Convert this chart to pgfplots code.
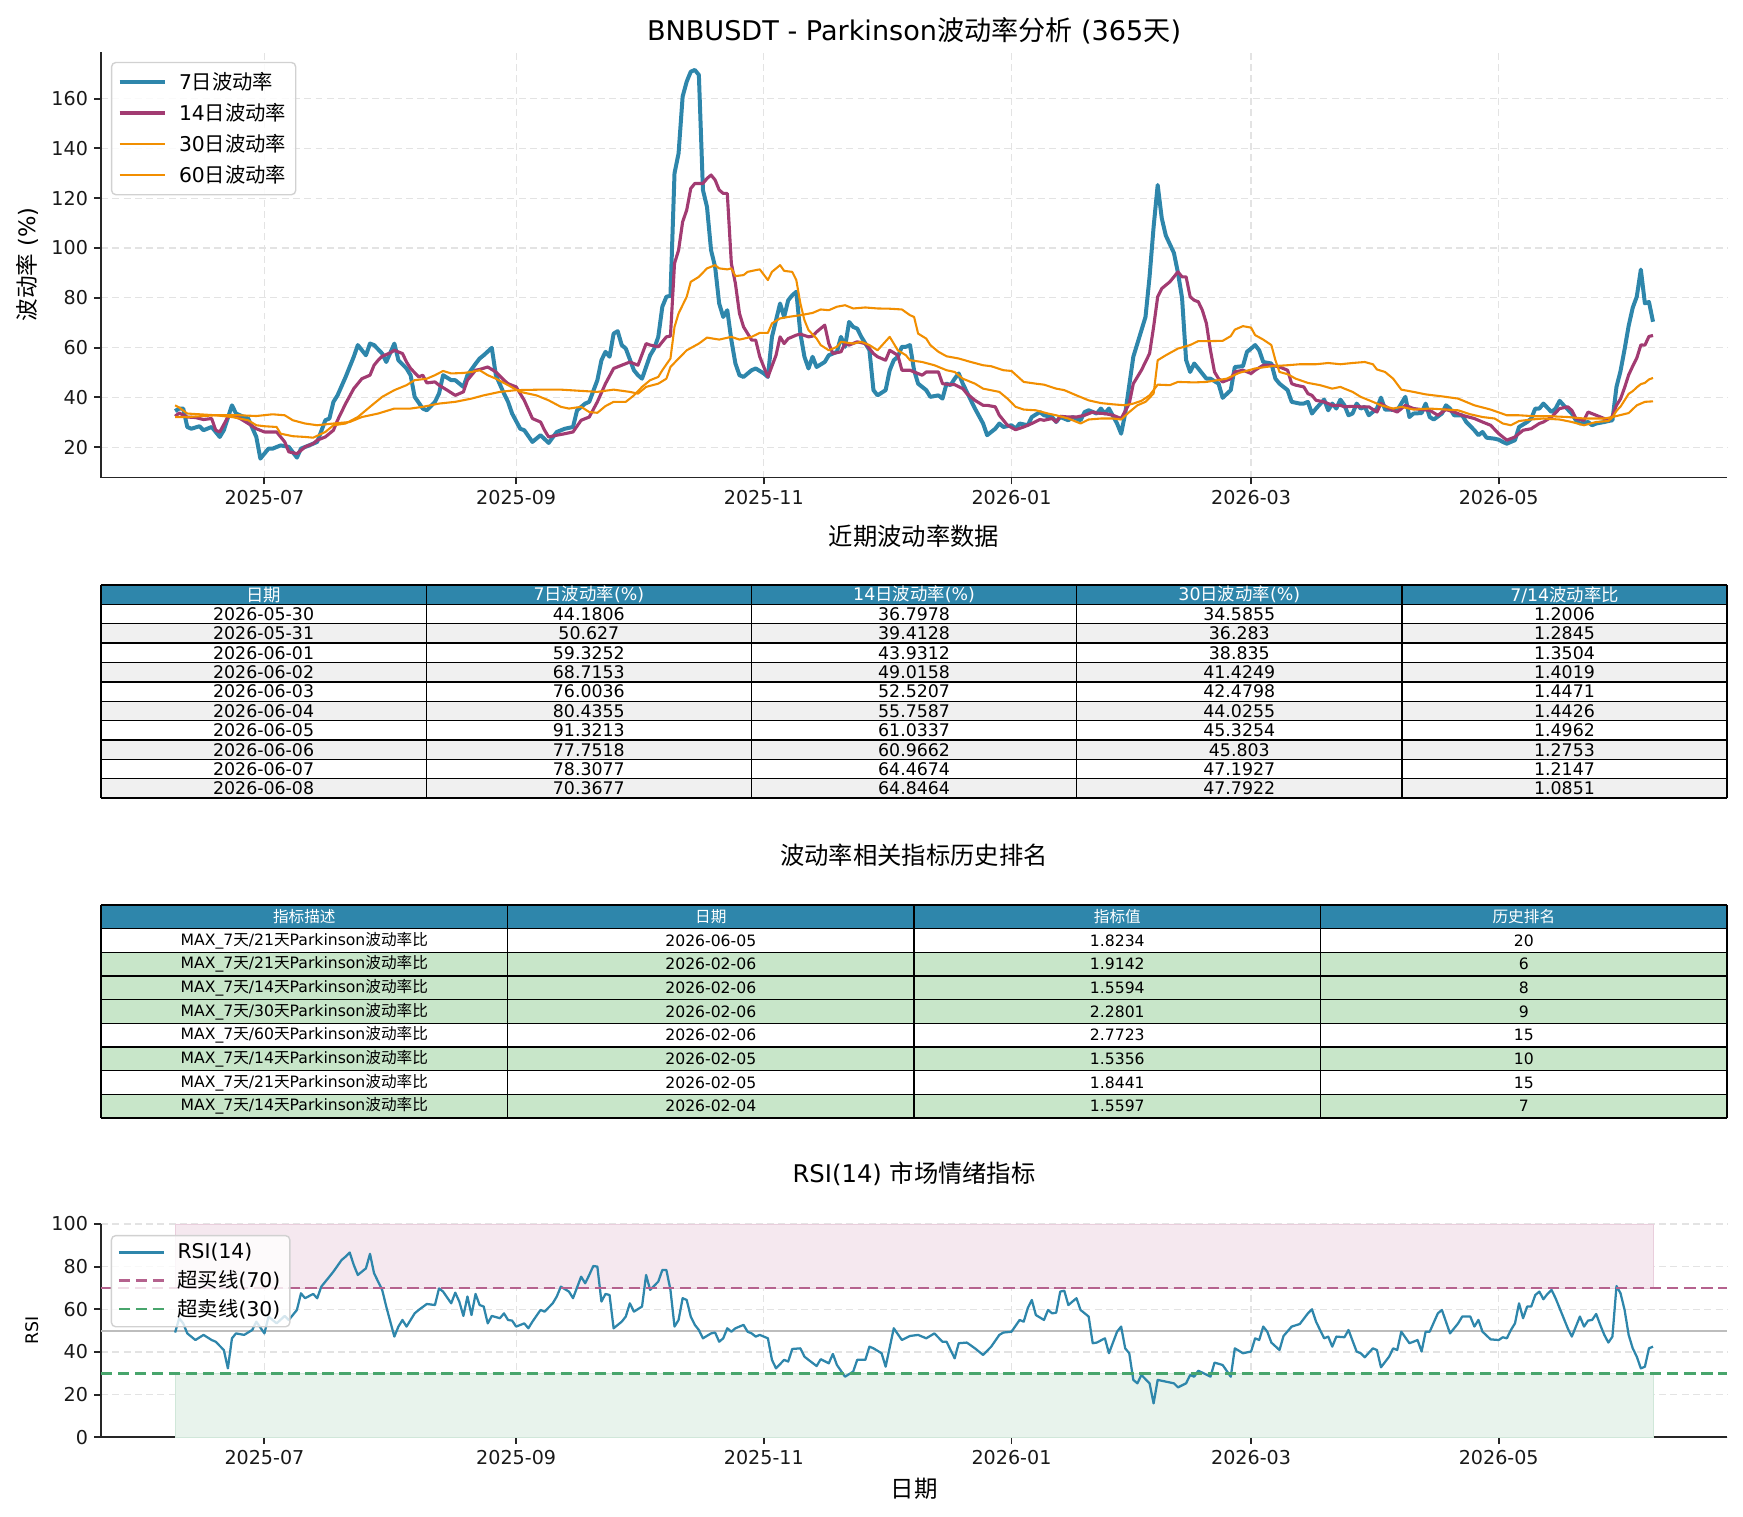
\documentclass[border=0pt]{standalone}
\usepackage{fontspec}
\setmainfont{DejaVu Sans}
\newfontfamily\cjkf{Noto Sans CJK SC}
\newcommand\zh[1]{{\cjkf #1}}
\usepackage{pgfplots}
\pgfplotsset{compat=1.18}
\definecolor{c7}{HTML}{2E86AB}
\definecolor{c14}{HTML}{A23B72}
\definecolor{c30}{HTML}{F18F01}
\definecolor{c60}{HTML}{F28E00}
\definecolor{hdr}{HTML}{2E86AB}
\definecolor{rowgray}{HTML}{F0F0F0}
\definecolor{rowgreen}{HTML}{C8E6C9}
\definecolor{gridc}{HTML}{E3E3E3}
\definecolor{spine}{HTML}{262626}
\definecolor{obline}{HTML}{B5628E}
\definecolor{osline}{HTML}{48A56C}
\definecolor{obfill}{HTML}{F5E8EF}
\definecolor{osfill}{HTML}{E8F3EC}
\definecolor{midline}{HTML}{BDBDBD}
\newcommand\tA{\fontsize{10}{12}\selectfont}
\newcommand\tB{\fontsize{9}{11}\selectfont}
\pgfplotsset{
  mystyle/.style={
    scale only axis, width=936.1pt,
    xmin=-18.25, xmax=382.25,
    axis x line*=bottom, axis y line*=left,
    axis line style={-, line width=1.1pt, color=spine},
    xtick={22,84,145,206,265,326},
    xticklabels={2025-07,2025-09,2025-11,2026-01,2026-03,2026-05},
    tick align=outside, major tick length=4pt,
    tick style={line width=1.1pt, color=spine},
    grid=major, grid style={dash pattern=on 4pt off 2.5pt, line width=0.7pt, color=gridc},
    ticklabel style={font=\fontsize{11}{13}\selectfont, color=black!90},
    /pgf/number format/assume math mode=true,
    legend cell align=left,
    legend image code/.code={\draw[##1] (0pt,0pt) -- (26pt,0pt); \path (31pt,0pt);},
  }
}
\newcommand\rowA[6]{%
  \pgfmathsetmacro\yy{-336.8-11.15*(#1+0.5)}%
  \node[font=\tA] at (151.76pt,\yy pt) {#2};
  \node[font=\tA] at (338.98pt,\yy pt) {#3};
  \node[font=\tA] at (526.2pt,\yy pt) {#4};
  \node[font=\tA] at (713.42pt,\yy pt) {#5};
  \node[font=\tA] at (900.64pt,\yy pt) {#6};
}
\newcommand\rowB[5]{%
  \pgfmathsetmacro\yy{-521-13.62*(#1+0.5)}%
  \node[font=\tB] at (175.16pt,\yy pt) {#2};
  \node[font=\tB] at (409.19pt,\yy pt) {#3};
  \node[font=\tB] at (643.21pt,\yy pt) {#4};
  \node[font=\tB] at (877.24pt,\yy pt) {#5};
}
\begin{document}
\begin{tikzpicture}
\useasboundingbox (0pt,0pt) rectangle (1003.4pt,-872.8pt);
% ---------------- top chart ----------------
\node[font=\fontsize{15.6}{18}\selectfont] at (526.2pt,-17.85pt) {BNBUSDT - Parkinson\zh{波动率分析} (365\zh{天})};
\begin{axis}[mystyle, at={(58.15pt,-29.65pt)}, anchor=north west, height=245.25pt,
  ymin=7.8, ymax=178.9, ytick={20,40,...,160},
  ylabel={\zh{波动率} (\%)},
  every axis y label/.style={at={(axis description cs:-0.0455,0.5)}, rotate=90, anchor=center, font=\fontsize{13}{15}\selectfont},
  legend style={at={(axis description cs:0,1)}, anchor=north west, xshift=5.7pt, yshift=-5.9pt,
    draw=black!18, line width=0.8pt, rounded corners=2.5pt, fill=white, fill opacity=0.85, text opacity=1,
    font=\fontsize{11.7}{14}\selectfont, inner xsep=3.5pt, inner ysep=3.5pt, row sep=2.5pt},
]
\addplot[color=c7, line width=2.3pt, line join=round] coordinates {
(0,34.5)(1,35.5)(2,35.5)(3,28.1)(4,27.4)(6,28.4)(7,26.8)(9,28.1)(10,26.1)(11,24.1)(12,26.8)(14,36.8)(15,33.5)(17,32.1)(18,31.5)(20,24.1)(21,15.4)(23,19.4)(24,19.4)(26,20.7)(28,20.1)(30,15.8)(31,19.4)(33,20.7)(35,22.1)(37,30.8)(38,31.5)(39,38.2)(40,40.8)(42,48.2)(44,56.3)(45,61.0)(47,56.9)(48,61.6)(49,61.0)(51,57.6)(52,54.2)(54,61.6)(55,54.9)(57,51.6)(58,48.9)(59,40.2)(61,35.5)(62,34.8)(64,38.2)(65,41.5)(66,48.9)(68,46.9)(69,46.9)(71,44.2)(72,48.9)(74,53.5)(75,55.6)(76,56.9)(78,59.9)(79,48.9)(81,41.5)(82,38.2)(83,33.5)(85,27.4)(86,26.8)(88,22.1)(90,24.8)(92,21.7)(94,26.1)(96,27.4)(98,28.1)(99,34.8)(101,37.5)(102,38.2)(104,46.9)(105,54.9)(106,58.3)(107,56.3)(108,65.6)(109,66.6)(110,61.0)(111,59.6)(113,50.9)(114,48.9)(115,47.5)(117,56.9)(118,59.6)(119,64.3)(120,76.4)(121,80.4)(122,80.8)(123,130)(124,138)(125,160.8)(126,166.8)(127,170.8)(128,171.5)(129,169.5)(130,123.3)(131,116.5)(132,99.1)(133,92.4)(134,77.7)(135,72.3)(136,75)(137,63)(138,53.6)(139,48.9)(140,48.2)(142,50.9)(143,51.6)(145,49.6)(146,48.2)(147,64.3)(149,77.7)(150,72.3)(151,79)(152,81)(153,82.4)(154,65.6)(155,56.3)(156,51.6)(157,56.3)(158,52.2)(160,54.2)(161,56.9)(163,58.3)(164,64.3)(165,60.3)(166,70.3)(167,68.3)(168,67.6)(169,64.3)(171,59)(172,42.9)(173,40.8)(175,42.9)(176,50.9)(177,54.9)(178,56.3)(179,60.3)(180,60.3)(181,61)(182,50.9)(183,45.5)(185,42.9)(186,40.2)(188,40.8)(189,39.5)(190,45.5)(191,44.9)(192,47.5)(193,49.6)(194,45.5)(196,38.8)(197,35.5)(199,29.5)(200,24.8)(202,27.4)(203,29.5)(204,28.1)(206,28.8)(207,27.4)(208,29.5)(210,28.8)(211,32.1)(213,34.1)(214,32.8)(216,32.1)(217,30.1)(218,32.1)(220,30.8)(221,32.1)(223,30.8)(224,34.1)(225,34.8)(227,33.5)(228,35.5)(229,33.5)(230,35.5)(232,29.5)(233,25.4)(234,33.5)(236,56.3)(237,61.6)(239,72.3)(240,88.4)(241,108.5)(242,125.3)(243,112)(244,105)(245,101.5)(246,98)(247,90)(248,80)(249,55)(250,50.2)(251,53.6)(252,51.6)(254,47.5)(255,47.5)(257,45.5)(258,39.8)(260,42.9)(261,52.2)(263,52.5)(264,58.3)(265,59.6)(266,61)(267,58.9)(268,54.2)(270,53.6)(271,47.5)(272,45.5)(274,42.9)(275,38.2)(277,37.5)(278,37.5)(279,38.2)(280,33.5)(281,35.5)(283,39.1)(284,34.8)(285,37.5)(286,35.5)(287,39.1)(288,36.8)(289,32.8)(290,33.5)(291,37.5)(292,35.5)(293,36.2)(294,32.8)(296,35.5)(297,39.9)(298,35.1)(299,35.1)(301,34.8)(302,37.5)(303,40.2)(304,32.1)(305,33.5)(307,33.7)(308,37.5)(309,32.1)(310,31.1)(312,33.5)(313,36.8)(314,35.5)(315,32.8)(317,32.8)(318,30.1)(320,26.8)(321,24.8)(322,26.1)(323,23.8)(325,23.4)(326,23.0)(327,22.1)(328,21.4)(330,22.8)(331,28.1)(333,30.1)(334,31.5)(335,35.5)(336,35.5)(337,37.5)(339,34.1)(340,35.5)(341,38.6)(342,36.8)(344,33.5)(345,30.8)(346,29.5)(348,30.1)(349,28.8)(350,29.5)(352,30.1)(353,30.5)(354,30.8)(355,44.1806)(356,50.627)(357,59.3252)(358,68.7153)(359,76.0036)(360,80.4355)(361,91.3213)(362,77.7518)(363,78.3077)(364,70.3677)
};
\addlegendentry{7\zh{日波动率}}
\addplot[color=c14, line width=1.8pt, line join=round] coordinates {
(0,32.4)(1,33.7)(3,32.1)(5,31.9)(7,31.1)(9,31.5)(10,26.8)(11,26.1)(13,32.1)(14,32.8)(16,31.5)(18,29.5)(20,27.4)(22,26.1)(23,26.1)(25,26.1)(27,22.1)(28,18.1)(30,17.4)(31,18.7)(32,20.1)(34,21.4)(35,22.8)(37,24.1)(39,26.8)(40,30.8)(42,37.5)(44,43.5)(46,47.5)(48,48.9)(49,52.9)(50,54.9)(51,56.5)(53,57.9)(54,58.9)(56,57.6)(57,54.2)(58,51.6)(60,48.2)(61,48.9)(62,45.8)(64,46.2)(65,44.9)(67,42.9)(69,40.8)(71,42.2)(72,46.9)(74,50.9)(75,51.2)(77,52.2)(79,50.2)(81,46.9)(82,45.5)(84,44.2)(86,38.8)(88,31.5)(90,30.1)(91,26.8)(92,24.1)(94,24.8)(96,25.4)(98,26.1)(100,30.8)(102,32.1)(104,38.2)(106,45.5)(108,51.6)(110,52.9)(112,54.2)(114,52.9)(116,61.6)(117,61)(119,60.3)(121,64.3)(122,64.6)(123,93.8)(124,99.1)(125,110.5)(126,115.2)(127,123.9)(128,125.9)(130,125.9)(131,127.9)(132,129.3)(133,127.3)(134,123.3)(135,121.9)(136,121.9)(137,93.8)(138,85.7)(139,73.7)(140,68.3)(142,63)(143,63)(144,56.3)(145,52.2)(146,48.2)(148,56.9)(149,64.3)(150,61.6)(151,63.6)(153,65)(154,65.4)(156,64.3)(157,64.6)(158,66.3)(160,69)(161,61.6)(162,57.6)(164,58.3)(165,61.6)(166,61)(168,62.3)(170,61.6)(172,57.6)(173,56.3)(175,54.9)(176,58.9)(178,56.9)(179,50.9)(181,50.9)(182,50.2)(184,48.9)(185,50.2)(188,50.2)(189,45.5)(191,45.1)(192,45.1)(194,43.5)(195,41.5)(197,38.8)(199,36.8)(200,36.8)(202,36.2)(203,32.8)(205,28.8)(207,27.0)(209,28.1)(211,29.5)(213,31.1)(214,30.8)(216,31.5)(217,30.1)(218,32.4)(220,32.1)(222,32.1)(224,32.8)(226,34.1)(227,33.7)(229,33.5)(231,32.8)(233,31.5)(235,37.5)(236,45.5)(238,50.9)(240,57.6)(241,68.3)(242,80.4)(243,83.7)(245,86.4)(247,90.4)(248,88.4)(249,88.4)(250,80.4)(251,79)(252,78.4)(253,75)(254,69.7)(255,58.9)(256,50.2)(257,47.5)(258,46.2)(260,47.5)(261,50.2)(263,50.9)(265,49.6)(266,50.9)(268,52.9)(270,52.9)(272,52.2)(274,50.9)(275,45.5)(276,44.9)(278,44.2)(279,41.5)(280,40.8)(281,38.8)(283,38.2)(285,36.8)(287,36.8)(288,36.2)(290,36.4)(292,36.2)(294,36.2)(296,34.1)(297,37.5)(299,35.5)(301,34.1)(303,36.8)(305,35.5)(307,35.1)(309,34.8)(311,32.8)(313,35.1)(315,34.1)(317,32.8)(320,31.5)(322,30.1)(324,28.8)(326,25.4)(328,22.8)(330,24.1)(332,26.8)(334,27.4)(336,29.5)(337,30.1)(339,32.1)(341,35.5)(343,36.2)(344,34.8)(345,31.5)(347,30.8)(348,34.1)(350,32.8)(352,31.5)(353,30.8)(354,32.5)(355,36.7978)(356,39.4128)(357,43.9312)(358,49.0158)(359,52.5207)(360,55.7587)(361,61.0337)(362,60.9662)(363,64.4674)(364,64.8464)
};
\addlegendentry{14\zh{日波动率}}
\addplot[color=c30, line width=1.2pt, line join=round] coordinates {
(0,36.8)(1,35.9)(3,33.5)(6,33.2)(10,32.8)(14,32.1)(18,30.8)(20,28.8)(22,28.4)(25,28.1)(26,25.4)(29,24.4)(32,24.1)(34,23.8)(37,26.1)(39,28.8)(42,29.5)(45,32.1)(48,36.2)(51,40.2)(54,42.9)(57,44.9)(59,46.9)(62,47.5)(64,48.9)(66,50.6)(68,49.6)(71,49.8)(73,50.2)(75,50.9)(77,48.9)(79,47.5)(82,44.9)(85,42.2)(89,40.8)(92,38.8)(95,36.2)(97,35.5)(100,36.2)(102,34.1)(104,33.8)(106,36.5)(108,38.2)(111,38.2)(113,40.8)(115,44.2)(117,46.9)(119,48.2)(120,50.9)(122,55.6)(123,68.3)(124,73.7)(126,80.4)(127,86.4)(129,88.4)(131,91.8)(133,93.1)(134,91.8)(136,91.4)(137,91.8)(138,88.7)(140,89.1)(141,90.4)(143,91.1)(144,91.4)(146,87.1)(147,90.4)(149,93.1)(150,90.8)(152,90.4)(153,87.1)(154,77.7)(155,71)(156,67)(158,63.6)(159,61)(161,58.9)(163,60.3)(164,62.3)(167,61.6)(169,62.3)(171,61)(173,58.9)(176,64.3)(178,58.9)(180,56.9)(181,54.9)(184,54.2)(187,52.9)(190,50.9)(192,50.2)(194,47.5)(197,45.5)(199,43.5)(203,42.2)(205,39.5)(207,36.2)(209,35.1)(212,34.8)(215,33.5)(217,32.8)(220,31.5)(223,29.5)(225,31.1)(228,31.5)(231,31.5)(233,31.1)(235,34.1)(237,36.8)(239,38.2)(241,41.5)(242,54.9)(244,56.9)(247,59.6)(250,61)(252,62.6)(255,62.6)(258,62.7)(260,64.6)(261,67.2)(263,68.6)(265,68.0)(266,65)(268,63.2)(270,61)(271,54.9)(272,50.2)(274,49.3)(276,47.5)(279,45.8)(282,44.9)(285,43.5)(287,44.2)(288,43.5)(290,42.2)(292,40.2)(295,38.2)(297,36.8)(300,35.5)(302,36.2)(305,35.1)(309,35.5)(313,35.1)(316,34.8)(319,33.2)(322,32.1)(325,31.5)(327,29.5)(329,28.8)(331,30.5)(334,31.1)(337,31.5)(341,31.1)(344,30.1)(347,28.8)(350,30.1)(353,30.5)(354,32.0)(355,34.5855)(356,36.283)(357,38.835)(358,41.4249)(359,42.4798)(360,44.0255)(361,45.3254)(362,45.803)(363,47.1927)(364,47.7922)
};
\addlegendentry{30\zh{日波动率}}
\addplot[color=c60, line width=1.2pt, line join=round] coordinates {
(0,32.1)(3,32.1)(6,32.4)(10,32.8)(16,32.8)(20,32.5)(24,33.2)(27,32.8)(29,30.8)(32,29.5)(35,28.8)(39,29.5)(43,30.1)(46,32.1)(50,33.5)(54,35.5)(58,35.5)(61,36.2)(65,37.5)(69,38.2)(73,39.5)(76,40.8)(80,42.2)(84,42.9)(90,43.1)(95,43.1)(100,42.6)(104,42.2)(108,43.1)(112,42.2)(114,41.5)(116,44.2)(119,45.5)(121,47.5)(122,52.2)(124,55.6)(126,58.9)(129,61.6)(131,64)(134,63.2)(137,64.3)(139,63.2)(142,64.3)(144,65.9)(146,65.9)(147,69.7)(149,71.7)(151,72.3)(154,73)(157,73.9)(159,75.3)(161,75)(163,76.4)(165,77)(167,75.7)(170,76.1)(173,75.7)(176,75.6)(179,75.3)(181,73)(182,72.3)(183,65.6)(185,63.6)(186,61)(188,58.3)(190,56.5)(193,55.6)(196,54.2)(199,52.9)(201,52.5)(204,50.9)(206,50.6)(209,46.2)(212,45.5)(214,45.1)(217,43.5)(219,42.9)(222,40.8)(225,38.8)(228,37.7)(231,37.2)(234,36.8)(236,37.5)(238,38.6)(240,40.8)(242,45.1)(245,44.9)(247,46.2)(251,46)(254,46.2)(259,47.5)(262,49.8)(266,51.6)(270,52.5)(274,52.9)(277,53.3)(281,53.3)(284,53.8)(287,53.3)(290,53.8)(293,54.2)(295,53.3)(296,51.2)(298,50.2)(300,47.5)(302,43.1)(305,42.2)(308,41.2)(312,40.4)(316,39.5)(320,36.8)(324,35.1)(328,32.8)(331,32.8)(335,32.4)(339,32.4)(343,32.1)(347,31.5)(352,31.5)(354,32.1)(358,33.7)(360,36.8)(362,38.2)(364,38.4)
};
\addlegendentry{60\zh{日波动率}}
\end{axis}
% ---------------- table 1 ----------------
\node[font=\fontsize{14}{16}\selectfont] at (526.2pt,-308.6pt) {\zh{近期波动率数据}};
\fill[hdr] (58.15pt,-336.8pt) rectangle (994.25pt,-347.95pt);
\foreach \k in {2,4,6,8,10} \fill[rowgray] (58.15pt,{-(336.8+11.15*\k)*1pt}) rectangle (994.25pt,{-(336.8+11.15*(\k+1))*1pt});
\foreach \k in {0,...,11} \draw[line width=0.8pt] (58.15pt,{-(336.8+11.15*\k)*1pt}) -- (994.25pt,{-(336.8+11.15*\k)*1pt});
\foreach \x in {58.15,245.37,432.59,619.81,807.03,994.25} \draw[line width=0.8pt] (\x pt,-336.8pt) -- (\x pt,-459.45pt);
\begin{scope}[every node/.style={text=white}]
\rowA{0}{\zh{日期}}{7\zh{日波动率}(\%)}{14\zh{日波动率}(\%)}{30\zh{日波动率}(\%)}{7/14\zh{波动率比}}
\end{scope}
\rowA{1}{2026-05-30}{44.1806}{36.7978}{34.5855}{1.2006}
\rowA{2}{2026-05-31}{50.627}{39.4128}{36.283}{1.2845}
\rowA{3}{2026-06-01}{59.3252}{43.9312}{38.835}{1.3504}
\rowA{4}{2026-06-02}{68.7153}{49.0158}{41.4249}{1.4019}
\rowA{5}{2026-06-03}{76.0036}{52.5207}{42.4798}{1.4471}
\rowA{6}{2026-06-04}{80.4355}{55.7587}{44.0255}{1.4426}
\rowA{7}{2026-06-05}{91.3213}{61.0337}{45.3254}{1.4962}
\rowA{8}{2026-06-06}{77.7518}{60.9662}{45.803}{1.2753}
\rowA{9}{2026-06-07}{78.3077}{64.4674}{47.1927}{1.2147}
\rowA{10}{2026-06-08}{70.3677}{64.8464}{47.7922}{1.0851}
% ---------------- table 2 ----------------
\node[font=\fontsize{14}{16}\selectfont] at (526.2pt,-492.2pt) {\zh{波动率相关指标历史排名}};
\fill[hdr] (58.15pt,-521pt) rectangle (994.25pt,-534.62pt);
\foreach \k in {2,3,4,6,8} \fill[rowgreen] (58.15pt,{-(521+13.62*\k)*1pt}) rectangle (994.25pt,{-(521+13.62*(\k+1))*1pt});
\foreach \k in {0,...,9} \draw[line width=0.8pt] (58.15pt,{-(521+13.62*\k)*1pt}) -- (994.25pt,{-(521+13.62*\k)*1pt});
\foreach \x in {58.15,292.18,526.2,760.23,994.25} \draw[line width=0.8pt] (\x pt,-521pt) -- (\x pt,-643.58pt);
\begin{scope}[every node/.style={text=white}]
\rowB{0}{\zh{指标描述}}{\zh{日期}}{\zh{指标值}}{\zh{历史排名}}
\end{scope}
\rowB{1}{MAX\_7\zh{天}/21\zh{天}Parkinson\zh{波动率比}}{2026-06-05}{1.8234}{20}
\rowB{2}{MAX\_7\zh{天}/21\zh{天}Parkinson\zh{波动率比}}{2026-02-06}{1.9142}{6}
\rowB{3}{MAX\_7\zh{天}/14\zh{天}Parkinson\zh{波动率比}}{2026-02-06}{1.5594}{8}
\rowB{4}{MAX\_7\zh{天}/30\zh{天}Parkinson\zh{波动率比}}{2026-02-06}{2.2801}{9}
\rowB{5}{MAX\_7\zh{天}/60\zh{天}Parkinson\zh{波动率比}}{2026-02-06}{2.7723}{15}
\rowB{6}{MAX\_7\zh{天}/14\zh{天}Parkinson\zh{波动率比}}{2026-02-05}{1.5356}{10}
\rowB{7}{MAX\_7\zh{天}/21\zh{天}Parkinson\zh{波动率比}}{2026-02-05}{1.8441}{15}
\rowB{8}{MAX\_7\zh{天}/14\zh{天}Parkinson\zh{波动率比}}{2026-02-04}{1.5597}{7}
% ---------------- RSI ----------------
\node[font=\fontsize{14}{16}\selectfont] at (526.2pt,-675.9pt) {RSI(14) \zh{市场情绪指标}};
\begin{axis}[mystyle, at={(58.15pt,-704.6pt)}, anchor=north west, height=122.8pt,
  ymin=0, ymax=100, ytick={0,20,...,100},
  xlabel={\zh{日期}}, ylabel={RSI},
  every axis x label/.style={at={(axis description cs:0.5,-0.242)}, anchor=center, font=\fontsize{13.5}{15}\selectfont},
  every axis y label/.style={at={(axis description cs:-0.0426,0.5)}, rotate=90, anchor=center, font=\fontsize{10}{12}\selectfont},
  legend style={at={(axis description cs:0,1)}, anchor=north west, xshift=5.6pt, yshift=-6.3pt,
    draw=black!18, line width=0.8pt, rounded corners=2.5pt, fill=white, fill opacity=0.8, text opacity=1,
    font=\fontsize{11.7}{14}\selectfont, inner xsep=3.5pt, inner ysep=2.5pt, row sep=1.2pt},
]
\addplot[forget plot, fill=obfill, draw=obfill!85!c14, line width=0.4pt] coordinates {(0,70) (0,100) (364,100) (364,70) (0,70)};
\addplot[forget plot, fill=osfill, draw=osfill!85!osline, line width=0.4pt] coordinates {(0,0) (0,30) (364,30) (364,0) (0,0)};
\addplot[forget plot, color=midline, line width=1.3pt] coordinates {(-18.25,50) (382.25,50)};
\addplot[color=c7, line width=1.3pt, line join=round] coordinates {
(0,49.1)(1,55.8)(2,53.4)(3,48.7)(5,45.6)(7,48)(9,45.6)(10,44.8)(12,40.9)(13,32.3)(14,46.4)(15,48.7)(17,48)(19,50.3)(20,54.2)(22,48.7)(23,56.6)(25,53.4)(27,56.9)(28,55)(30,59.7)(31,67.5)(32,65.2)(34,67.2)(35,65.2)(36,70.6)(38,75.3)(39,77.7)(41,83.1)(42,84.7)(43,86.6)(44,80.8)(45,76.1)(47,79.2)(48,86)(49,76.9)(51,69.1)(52,61.3)(54,47.2)(55,51.9)(56,55)(57,51.9)(59,58.1)(60,59.7)(62,62.5)(64,62)(65,69.8)(66,68.3)(68,62.8)(69,67.8)(70,63.6)(71,56.9)(72,66)(73,57.3)(74,67.2)(75,62)(76,61.3)(77,53.4)(78,56.9)(80,55.8)(81,58.1)(82,55)(83,54.7)(84,51.9)(86,53.4)(87,51.1)(88,54.2)(90,59.7)(91,58.9)(93,62.8)(94,66)(95,70.6)(97,68.3)(98,65.2)(100,75.3)(101,72.2)(102,76.1)(103,80.3)(104,80.0)(105,63.6)(106,67.2)(107,66.7)(108,51.1)(110,54.2)(111,56.6)(112,62.8)(113,58.9)(115,61.3)(116,76.1)(117,69.1)(119,73)(120,78.4)(121,78.4)(122,69.1)(123,51.9)(124,55)(125,65.2)(126,64.4)(127,56.6)(128,52.7)(129,50.3)(130,46.4)(132,48.7)(133,49.1)(134,44.8)(135,46.4)(136,51.1)(137,49.5)(138,51.1)(140,52.7)(141,49.5)(142,48.7)(143,47.2)(144,48)(146,46.4)(147,36.3)(148,32.3)(150,36.3)(151,35.5)(152,41.4)(154,41.7)(155,37.8)(156,36.3)(158,33.4)(159,36.6)(161,34.7)(162,39.1)(163,33.9)(165,28.4)(167,30.8)(168,36.3)(170,36.3)(171,42.5)(172,41.7)(174,39.4)(175,33.1)(177,51.1)(179,45.6)(181,47.5)(183,48)(185,46.4)(187,48.7)(189,44.8)(190,44.8)(192,37.0)(193,44.1)(195,44.4)(197,41.7)(199,38.6)(201,42.5)(203,48)(204,49.1)(206,49.5)(208,55)(209,54.2)(210,60.5)(211,64.4)(212,57.3)(214,55)(215,59.7)(216,58.1)(217,58.4)(218,68.3)(219,68.7)(220,62)(222,65.2)(223,59.7)(225,56.6)(226,44.1)(227,44.4)(229,46.4)(230,39.4)(232,49.5)(233,51.9)(234,41.7)(235,39.4)(236,26.9)(237,25.3)(238,29.2)(240,25.3)(241,15.9)(242,26.9)(244,26.1)(246,25.3)(247,23.4)(249,25.3)(250,29.2)(251,28.4)(252,31.2)(253,30.3)(255,28.4)(256,35)(258,33.9)(260,28.4)(261,41.7)(263,39.4)(265,40.2)(266,46.4)(267,45.6)(268,51.9)(269,49.5)(270,44.4)(272,40.9)(273,47.5)(275,51.9)(277,53.1)(279,58.1)(280,60)(281,54.2)(283,46.4)(284,47.2)(285,42.5)(286,47.2)(288,46.9)(289,50.3)(291,40.2)(292,39.4)(293,37.5)(295,41.7)(296,40.9)(297,32.8)(299,37.8)(300,41.7)(301,40.9)(302,49.5)(304,44.1)(305,44.8)(306,45.6)(307,40.2)(308,49.5)(309,49.5)(311,58.1)(312,59.7)(314,48.7)(316,53.4)(317,56.6)(319,56.6)(320,51.9)(321,55)(322,49.5)(324,45.9)(326,45.6)(327,46.9)(328,46.4)(329,50.3)(330,53.4)(331,62.8)(332,55.8)(333,61.3)(334,61.3)(335,66.7)(336,68.3)(337,64.7)(338,67.2)(339,69.1)(340,65.2)(342,55.8)(343,51.1)(344,47.2)(346,56.6)(347,51.9)(348,54.7)(349,55)(350,57.8)(351,52.7)(352,48)(353,44.4)(354,47.2)(355,70.9)(356,67.5)(357,59.7)(358,48)(359,41.7)(360,37.8)(361,32.3)(362,33.1)(363,41.7)(364,42.5)
};
\addlegendentry{RSI(14)}
\addplot[color=obline, line width=1.6pt, dash pattern=on 6.5pt off 3.3pt] coordinates {(-18.25,70) (382.25,70)};
\addlegendentry{\zh{超买线}(70)}
\addplot[color=osline, line width=1.6pt, dash pattern=on 6.5pt off 3.3pt] coordinates {(-18.25,30) (382.25,30)};
\addlegendentry{\zh{超卖线}(30)}
\end{axis}
\end{tikzpicture}
\end{document}
